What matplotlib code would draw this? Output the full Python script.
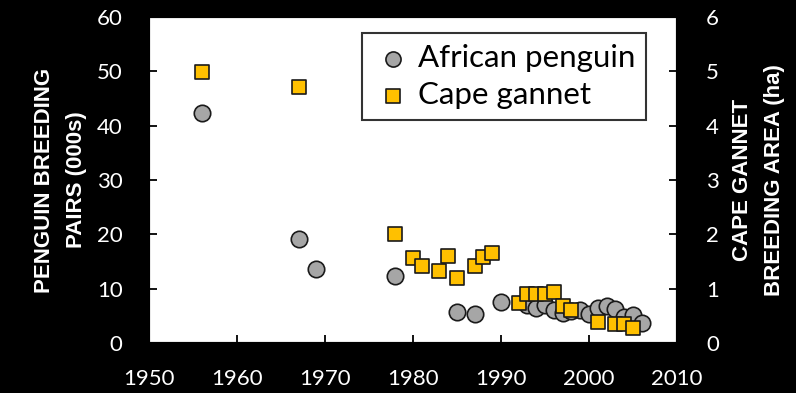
import matplotlib.pyplot as plt

# African penguin breeding pairs (thousands)
penguin_years = [1956, 1967, 1969, 1978, 1985, 1987, 1990, 1993, 1994, 1995, 1996,
                 1997, 1998, 1999, 2000, 2001, 2002, 2003, 2004, 2005, 2006]
penguin_pairs = [42.3, 19.2, 13.7, 12.3, 5.7, 5.3, 7.5, 7.0, 6.4, 7.0, 6.1,
                 5.5, 5.8, 6.0, 5.4, 6.5, 6.9, 6.2, 4.8, 5.2, 3.6]

# Cape gannet breeding area (ha)
gannet_years = [1956, 1967, 1978, 1980, 1981, 1983, 1984, 1985, 1987, 1988, 1989,
                1992, 1993, 1994, 1995, 1996, 1997, 1998, 2001, 2003, 2004, 2005]
gannet_area = [4.98, 4.72, 2.0, 1.56, 1.41, 1.33, 1.6, 1.19, 1.41, 1.59, 1.66,
               0.74, 0.90, 0.90, 0.90, 0.94, 0.68, 0.60, 0.38, 0.35, 0.35, 0.27]

x_ticks = [1950, 1960, 1970, 1980, 1990, 2000, 2010]
left_ticks = [0, 10, 20, 30, 40, 50, 60]
right_ticks = [0, 1, 2, 3, 4, 5, 6]

plt.rcParams['font.family'] = ['Lato', 'DejaVu Sans']
label_font = ['Liberation Sans', 'DejaVu Sans']

fig = plt.figure(figsize=(7.96, 3.93), dpi=100, facecolor='black')
ax = fig.add_axes([0.1872, 0.1272, 0.6633, 0.8295])
ax.set_facecolor('white')
ax2 = ax.twinx()

p1 = ax.scatter(penguin_years, penguin_pairs, s=140, marker='o', facecolor='#a6a6a6',
                edgecolor='#1a1a1a', linewidth=1.2, label='African penguin', zorder=3)
p2 = ax2.scatter(gannet_years, gannet_area, s=110, marker='s', facecolor='#ffc000',
                 edgecolor='#1a1a1a', linewidth=1.2, label='Cape gannet', zorder=3)

ax.set_xlim(1950, 2010)
ax.set_ylim(0, 60)
ax2.set_ylim(0, 6)
ax.set_xticks(x_ticks)
ax.set_yticks(left_ticks)
ax2.set_yticks(right_ticks)

for a in (ax, ax2):
    for sp in a.spines.values():
        sp.set_color('black')
        sp.set_linewidth(1.5)

ax.tick_params(axis='x', direction='in', length=6, width=1.3, color='black',
               labelcolor='white', labelsize=16, pad=19)
ax.tick_params(axis='y', direction='in', length=6, width=1.3, color='black',
               labelcolor='white', labelsize=16, pad=19)
ax2.tick_params(axis='y', direction='in', length=6, width=1.3, color='black',
                labelcolor='white', labelsize=16, pad=21)

ax.set_ylabel('PENGUIN BREEDING\nPAIRS (000s)', color='white', fontsize=16,
              family=label_font, fontweight='bold', linespacing=1.7, labelpad=7)
ax2.set_ylabel('CAPE GANNET\nBREEDING AREA (ha)', color='white', fontsize=16,
               family=label_font, fontweight='bold', linespacing=1.7,
               rotation=90, labelpad=9)

leg = ax2.legend(handles=[p1, p2], loc='upper right', bbox_to_anchor=(0.941, 0.951),
                 borderaxespad=0, fontsize=22.5, frameon=True, fancybox=False,
                 handletextpad=0.16, handlelength=1.28, borderpad=0.35,
                 labelspacing=0.3, markerscale=0.92)
leg.get_frame().set_edgecolor('black')
leg.get_frame().set_linewidth(1.5)

fig.savefig('out.png', dpi=100, facecolor='black')
